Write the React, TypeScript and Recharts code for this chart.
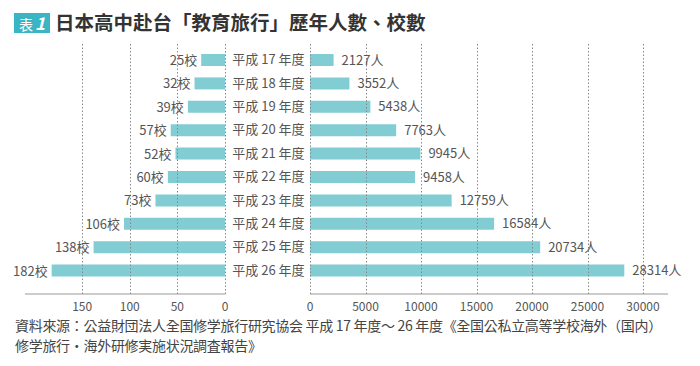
import { BarChart, Bar, XAxis, YAxis, LabelList } from "recharts"

const years = [
  "平成 17 年度",
  "平成 18 年度",
  "平成 19 年度",
  "平成 20 年度",
  "平成 21 年度",
  "平成 22 年度",
  "平成 23 年度",
  "平成 24 年度",
  "平成 25 年度",
  "平成 26 年度",
]
const schools = [25, 32, 39, 57, 52, 60, 73, 106, 138, 182]
const students = [2127, 3552, 5438, 7763, 9945, 9458, 12759, 16584, 20734, 28314]
const schoolTicks = [0, 50, 100, 150]
const studentTicks = [0, 5000, 10000, 15000, 20000, 25000, 30000]

const data = years.map((year, i) => ({ year, schools: schools[i], students: students[i] }))

const font = '"Noto Sans CJK TC", "Noto Sans", sans-serif'
const barColor = "#82cdd4"
const textColor = "#555"
const gridColor = "#888"
const plotTop = 44
const plotBottom = 294

// tick label plus the dotted grid line above it
const GridTick = ({ x, payload }: any) => {
  const gx = Math.round(Number(x)) + 0.5
  return (
    <g>
      <line x1={gx} x2={gx} y1={plotTop} y2={plotBottom} stroke={gridColor} strokeWidth={1} strokeDasharray="1.5 2" />
      <text x={x} y={plotBottom + 17} textAnchor="middle" fill={textColor} fontSize={12} fontFamily={font}>
        {payload.value}
      </text>
    </g>
  )
}

const YearTick = ({ y, payload }: any) => (
  <text x={41.5} y={y} dy={4.5} textAnchor="middle" fill={textColor} fontSize={13} fontFamily={font}>
    {payload.value}
  </text>
)

// reversed axis gives rects with odd x/width, so place the label off the left edge ourselves
const SchoolLabel = ({ x, y, width, height, value }: any) => {
  const left = Math.min(Number(x), Number(x) + Number(width))
  return (
    <text x={left - 4} y={Number(y) + Number(height) / 2} dy={5} textAnchor="end" fill={textColor} fontSize={13} fontFamily={font}>
      {`${value}校`}
    </text>
  )
}

export default function App() {
  return (
    <div style={{ position: "absolute", left: 0, top: 0, width: 700, height: 366, background: "#fff", fontFamily: font }}>
      <div
        style={{
          position: "absolute",
          left: 14,
          top: 13,
          width: 36,
          height: 20,
          background: "#3ab5c3",
          color: "#fff",
          fontSize: 14,
          lineHeight: "20px",
          textAlign: "center",
        }}
      >
        表<span style={{ fontStyle: "italic", fontWeight: 700, fontSize: 17, marginLeft: 2 }}>1</span>
      </div>
      <div style={{ position: "absolute", left: 55, top: 8, fontSize: 19.5, fontWeight: 700, color: "#333", lineHeight: "28px" }}>
        日本高中赴台「教育旅行」歷年人數、校數
      </div>

      <div style={{ position: "absolute", left: 0, top: 0 }}>
        <BarChart width={230} height={324} data={data} layout="vertical" margin={{ top: plotTop, right: 5, left: 25, bottom: 0 }}>
          <XAxis
            type="number"
            domain={[0, 210]}
            ticks={schoolTicks}
            reversed
            height={30}
            tickLine={false}
            axisLine={{ stroke: "#999" }}
            tick={<GridTick />}
          />
          <YAxis type="category" dataKey="year" hide interval={0} padding={{ top: 4, bottom: 12 }} />
          <Bar dataKey="schools" fill={barColor} barSize={12} isAnimationActive={false}>
            <LabelList dataKey="schools" content={<SchoolLabel />} />
          </Bar>
        </BarChart>
      </div>

      <div style={{ position: "absolute", left: 227, top: 0 }}>
        <BarChart width={473} height={324} data={data} layout="vertical" margin={{ top: plotTop, right: 32, left: 0, bottom: 0 }}>
          <XAxis
            type="number"
            domain={[0, 32250]}
            ticks={studentTicks}
            height={30}
            tickLine={false}
            axisLine={{ stroke: "#999" }}
            tick={<GridTick />}
          />
          <YAxis
            type="category"
            dataKey="year"
            width={83}
            interval={0}
            axisLine={false}
            tickLine={false}
            tick={<YearTick />}
            padding={{ top: 4, bottom: 12 }}
          />
          <Bar dataKey="students" fill={barColor} barSize={12} isAnimationActive={false}>
            <LabelList
              dataKey="students"
              position="right"
              offset={8}
              formatter={(v: any) => `${v}人`}
              style={{ fontSize: 13, fill: textColor, fontFamily: font }}
            />
          </Bar>
        </BarChart>
      </div>

      <div style={{ position: "absolute", left: 15, top: 315, fontSize: 14, lineHeight: "20px", color: "#444", letterSpacing: -0.3 }}>
        資料來源：公益財団法人全国修学旅行研究協会 平成 17 年度～ 26 年度《全国公私立高等学校海外（国内）
        <br />
        修学旅行・海外研修実施状況調査報告》
      </div>
    </div>
  )
}
